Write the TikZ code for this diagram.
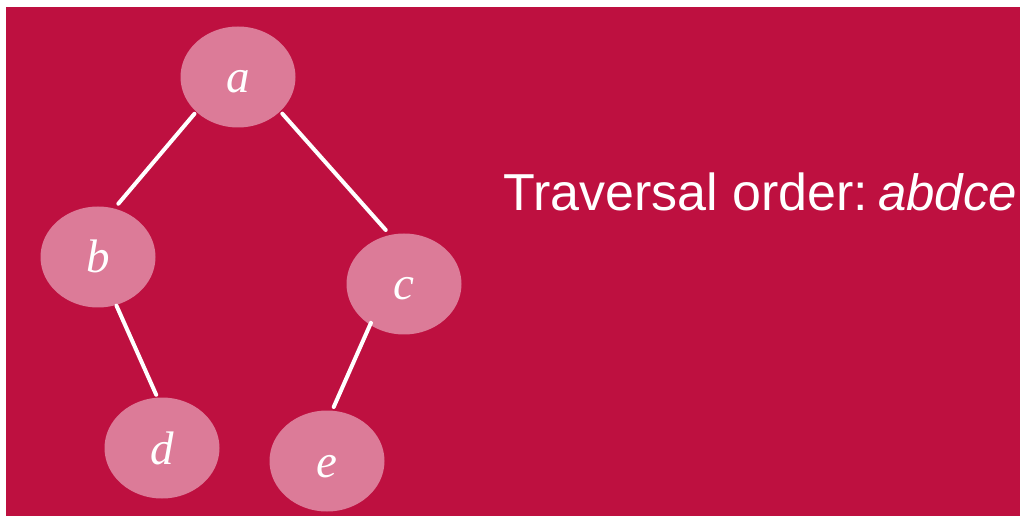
\documentclass[tikz,border=0pt]{standalone}
\usepackage{fontspec}
\setmainfont{Liberation Serif}
\newfontfamily\labelsans{Liberation Sans}
\usetikzlibrary{shapes.geometric}
\definecolor{bgcrimson}{HTML}{BE1040}
\definecolor{nodepink}{HTML}{DC7B98}
\tikzset{
  treenode/.style={ellipse, fill=nodepink, minimum width=115pt, minimum height=101pt, inner sep=0pt,
    text=white, font=\fontsize{47}{47}\selectfont\itshape, text height=32pt, text depth=0pt},
  treeedge/.style={draw=white, line width=4pt, line cap=round}
}
\begin{document}
\begin{tikzpicture}[x=1pt,y=-1pt]
\useasboundingbox (0,0) rectangle (1022,518);
\fill[white] (0,0) rectangle (1022,518);
\fill[bgcrimson] (6,7) rectangle (1020,516);
\node[treenode] (a) at (238,77) {a};
\node[treenode] (b) at (98,257) {b};
\node[treenode] (c) at (404,284) {c};
\node[treenode] (d) at (162,448) {d};
\node[treenode] (e) at (327,461) {e};
\draw[treeedge] ([shift={(139.8:57)}]a.center) -- ([shift={(290.9:57)}]b.center);
\draw[treeedge] ([shift={(39.6:57.5)}]a.center) -- ([shift={(251.3:57)}]c.center);
\draw[treeedge] ([shift={(69.2:52)}]b.center) -- ([shift={(263.8:53.5)}]d.center);
\draw[treeedge] ([shift={(130.4:51)}]c.center) -- ([shift={(277.1:54.5)}]e.center);
\node[anchor=base west, inner sep=0pt, text=white, font=\labelsans] (t) at (503,211)
  {\fontsize{52}{52}\selectfont Traversal order:\hspace{10pt}\fontsize{51}{51}\selectfont\itshape abdce};
\end{tikzpicture}
\end{document}
